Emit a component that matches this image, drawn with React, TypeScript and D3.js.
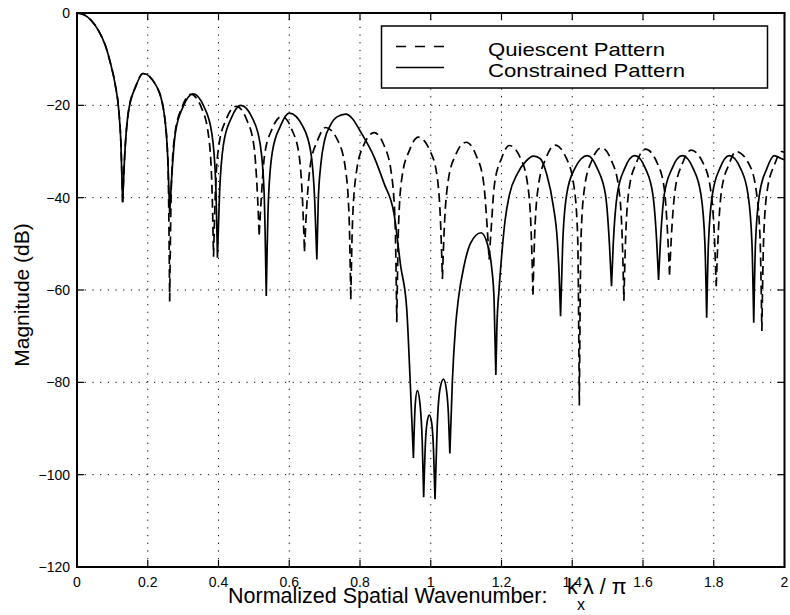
import React, { useEffect, useRef } from 'react';
import * as d3 from 'd3';

// [k_x lambda / pi, dB]
const quiescentPattern: [number, number][] = [
  [0, 0], [0.02, -0.4], [0.04, -1.6], [0.06, -3.7], [0.08, -7], [0.095, -11], [0.108, -15.5], [0.118, -21], [0.124, -28], [0.129, -41],
  [0.134, -32.1], [0.145, -21.6], [0.166, -15.9], [0.186, -13.1], [0.225, -15.9], [0.246, -21.6], [0.257, -32.1], [0.262, -62.5],
  [0.267, -36.6], [0.277, -26.1], [0.297, -20.4], [0.322, -17.6], [0.351, -20.4], [0.371, -26.1], [0.381, -36.6], [0.386, -52.8],
  [0.391, -39.2], [0.401, -28.7], [0.422, -23], [0.45, -20.2], [0.479, -23], [0.5, -28.7], [0.51, -39.2], [0.515, -48],
  [0.52, -41.4], [0.53, -30.9], [0.551, -25.2], [0.579, -22.4], [0.607, -25.2], [0.628, -30.9], [0.638, -41.4], [0.643, -51.6],
  [0.648, -43.8], [0.659, -33.3], [0.68, -27.6], [0.703, -24.8], [0.737, -27.6], [0.758, -33.3], [0.769, -43.8], [0.774, -62],
  [0.779, -44.9], [0.79, -34.4], [0.81, -28.7], [0.84, -25.9], [0.868, -28.7], [0.888, -34.4], [0.899, -44.9], [0.904, -67],
  [0.909, -45.9], [0.919, -35.4], [0.94, -29.7], [0.965, -26.9], [0.997, -29.7], [1.018, -35.4], [1.028, -45.9], [1.033, -57.6],
  [1.038, -47], [1.049, -36.5], [1.07, -30.8], [1.1, -28], [1.128, -30.8], [1.149, -36.5], [1.16, -47], [1.165, -53.4],
  [1.17, -47.7], [1.18, -37.2], [1.2, -31.5], [1.222, -28.7], [1.254, -31.5], [1.274, -37.2], [1.284, -47.7], [1.289, -61],
  [1.294, -47.6], [1.305, -37.1], [1.326, -31.4], [1.351, -28.6], [1.383, -31.4], [1.404, -37.1], [1.415, -47.6], [1.42, -85],
  [1.425, -48.2], [1.435, -37.7], [1.455, -32], [1.483, -29.2], [1.511, -32], [1.531, -37.7], [1.541, -48.2], [1.546, -62.3],
  [1.551, -48.5], [1.561, -38], [1.582, -32.3], [1.607, -29.5], [1.639, -32.3], [1.66, -38], [1.67, -48.5], [1.675, -56.7],
  [1.68, -48.7], [1.691, -38.2], [1.712, -32.5], [1.736, -29.7], [1.77, -32.5], [1.791, -38.2], [1.802, -48.7], [1.807, -59.2],
  [1.812, -49], [1.822, -38.5], [1.843, -32.8], [1.863, -30], [1.9, -32.8], [1.92, -38.5], [1.931, -49], [1.936, -68.9],
  [1.941, -49], [1.951, -38.5], [1.972, -32.8], [1.992, -30], [2.0, -30.2],
];

const constrainedPattern: [number, number][] = [
  [0, 0], [0.02, -0.4], [0.04, -1.6], [0.06, -3.7], [0.08, -7], [0.095, -11], [0.108, -15.5], [0.118, -21], [0.124, -28], [0.129, -41],
  [0.134, -32.1], [0.145, -21.6], [0.166, -15.9], [0.187, -13.1], [0.225, -15.9], [0.246, -21.6], [0.257, -32.1], [0.262, -43.5],
  [0.267, -36.5], [0.278, -26], [0.3, -20.3], [0.328, -17.5], [0.359, -20.3], [0.381, -26], [0.392, -36.5], [0.397, -53],
  [0.403, -39], [0.414, -28.5], [0.436, -22.8], [0.463, -20], [0.496, -22.8], [0.518, -28.5], [0.529, -39], [0.535, -61.3],
  [0.541, -40.7], [0.552, -30.2], [0.575, -24.5], [0.6, -21.7], [0.638, -24.5], [0.661, -30.2], [0.672, -40.7], [0.678, -53.4],
  [0.682, -40.7], [0.689, -33], [0.7, -27.5], [0.715, -24.5], [0.735, -22.5], [0.76, -21.9], [0.78, -23], [0.8, -25.5],
  [0.84, -31.2], [0.868, -36.9], [0.896, -43.4], [0.915, -54.8], [0.932, -64], [0.942, -80], [0.951, -96.4],
  [0.956, -85], [0.962, -81.8], [0.97, -85], [0.976, -93], [0.98, -104.9],
  [0.985, -93], [0.99, -88.5], [0.996, -87.1], [1.003, -89], [1.008, -95], [1.012, -105.3],
  [1.018, -90], [1.026, -81.5], [1.036, -79.3], [1.045, -82], [1.05, -87], [1.054, -95.4],
  [1.061, -80], [1.07, -68], [1.078, -62], [1.094, -54.8], [1.113, -49.8], [1.142, -47.6], [1.16, -50], [1.172, -55], [1.179, -62], [1.184, -78.4],
  [1.187, -68], [1.193, -60], [1.2, -53], [1.21, -45], [1.222, -39.5], [1.245, -34.8], [1.268, -32.2], [1.29, -31],
  [1.309, -31.5], [1.328, -35], [1.346, -41.6], [1.358, -49.5], [1.363, -56.7], [1.367, -65.7],
  [1.373, -49.9], [1.384, -39.4], [1.407, -33.7], [1.443, -30.9], [1.471, -33.7], [1.494, -39.4], [1.505, -49.9], [1.511, -59.2],
  [1.516, -49.9], [1.527, -39.4], [1.548, -33.7], [1.577, -30.9], [1.607, -33.7], [1.628, -39.4], [1.639, -49.9], [1.644, -57.8],
  [1.649, -49.9], [1.66, -39.4], [1.682, -33.7], [1.711, -30.9], [1.742, -33.7], [1.764, -39.4], [1.775, -49.9], [1.78, -66],
  [1.785, -49.9], [1.796, -39.4], [1.817, -33.7], [1.844, -30.9], [1.876, -33.7], [1.897, -39.4], [1.908, -49.9], [1.913, -67.1],
  [1.918, -49.9], [1.929, -39.4], [1.95, -33.7], [1.971, -30.9], [1.99, -31.5], [2.0, -31.8],
];

const xTicks = [0, 0.2, 0.4, 0.6, 0.8, 1, 1.2, 1.4, 1.6, 1.8, 2];
const yTicks = [0, -20, -40, -60, -80, -100, -120];
const legendLabels = ['Quiescent Pattern', 'Constrained Pattern'];

const FONT = '"Liberation Sans", Arial, Helvetica, sans-serif';

// split a pattern at its nulls so each lobe gets its own smooth piece with a sharp cusp
const splitAtNulls = (pts: [number, number][]) => {
  const segs: [number, number][][] = [];
  let cur: [number, number][] = [pts[0]];
  for (let i = 1; i < pts.length; i++) {
    cur.push(pts[i]);
    if (i < pts.length - 1 && pts[i][1] < pts[i - 1][1] && pts[i][1] < pts[i + 1][1]) {
      segs.push(cur);
      cur = [pts[i]];
    }
  }
  segs.push(cur);
  return segs;
};

const App = () => {
  const svgRef = useRef<SVGSVGElement>(null);

  useEffect(() => {
    const svg = d3.select(svgRef.current);
    svg.selectAll('*').remove();

    const x = d3.scaleLinear().domain([0, 2]).range([77, 784.5]);
    const y = d3.scaleLinear().domain([-120, 0]).range([567, 13]);
    const [x0, x1] = x.range();
    const [yB, yT] = y.range();

    svg.append('rect').attr('width', 790).attr('height', 615).attr('fill', '#fff');

    // dotted grid
    const grid = svg.append('g').attr('stroke', '#000').attr('stroke-width', 1).attr('stroke-dasharray', '1.2,6.5');
    grid.selectAll('.gx').data(xTicks.slice(1, -1)).enter().append('line')
      .attr('x1', d => x(d)).attr('x2', d => x(d)).attr('y1', yB).attr('y2', yT);
    grid.selectAll('.gy').data(yTicks.slice(1, -1)).enter().append('line')
      .attr('x1', x0).attr('x2', x1).attr('y1', d => y(d)).attr('y2', d => y(d));

    // curves
    const line = d3.line<[number, number]>().x(d => x(d[0])).y(d => y(d[1])).curve(d3.curveMonotoneX);
    const pathOf = (pts: [number, number][]) => splitAtNulls(pts).map(s => line(s)).join('');

    svg.append('path').attr('d', pathOf(quiescentPattern))
      .attr('fill', 'none').attr('stroke', '#000').attr('stroke-width', 1.7).attr('stroke-dasharray', '9,5');
    svg.append('path').attr('d', pathOf(constrainedPattern))
      .attr('fill', 'none').attr('stroke', '#000').attr('stroke-width', 1.7);

    // inner ticks on all four sides
    const tickLen = 7;
    const ticks = svg.append('g').attr('stroke', '#000').attr('stroke-width', 1.2);
    xTicks.forEach(t => {
      ticks.append('line').attr('x1', x(t)).attr('x2', x(t)).attr('y1', yB).attr('y2', yB - tickLen);
      ticks.append('line').attr('x1', x(t)).attr('x2', x(t)).attr('y1', yT).attr('y2', yT + tickLen);
    });
    yTicks.forEach(t => {
      ticks.append('line').attr('x1', x0).attr('x2', x0 + tickLen).attr('y1', y(t)).attr('y2', y(t));
      ticks.append('line').attr('x1', x1).attr('x2', x1 - tickLen).attr('y1', y(t)).attr('y2', y(t));
    });

    // frame
    svg.append('rect').attr('x', x0).attr('y', yT).attr('width', x1 - x0).attr('height', yB - yT)
      .attr('fill', 'none').attr('stroke', '#000').attr('stroke-width', 2);

    // tick labels
    svg.append('g').selectAll('text').data(xTicks).enter().append('text')
      .attr('x', d => x(d)).attr('y', 587).attr('text-anchor', 'middle')
      .style('font-family', FONT).style('font-size', '14px')
      .text(d => String(d));
    svg.append('g').selectAll('text').data(yTicks).enter().append('text')
      .attr('x', 70).attr('y', d => y(d) + 5).attr('text-anchor', 'end')
      .style('font-family', FONT).style('font-size', '14px')
      .text(d => (d < 0 ? '\u2212' + Math.abs(d) : String(d)));

    // axis labels
    svg.append('text')
      .attr('transform', 'translate(29, 295) rotate(-90)')
      .attr('text-anchor', 'middle')
      .style('font-family', FONT).style('font-size', '21px')
      .text('Magnitude (dB)');

    const xl = svg.append('g').style('font-family', FONT).style('font-size', '21.5px');
    xl.append('text').attr('x', 228).attr('y', 603).text('Normalized Spatial Wavenumber:');
    xl.append('text').attr('x', 567).attr('y', 594).text('k');
    xl.append('text').attr('x', 577).attr('y', 610).style('font-size', '16px').text('x');
    xl.append('text').attr('x', 583).attr('y', 594).text('\u03bb / \u03c0');

    // legend
    const lg = svg.append('g');
    lg.append('rect').attr('x', 381.5).attr('y', 26).attr('width', 386).attr('height', 62)
      .attr('fill', '#fff').attr('stroke', '#000').attr('stroke-width', 1.5);
    const legendRows = lg.selectAll('.row').data(legendLabels).enter().append('g')
      .attr('transform', (_, i) => `translate(0, ${i * 21})`);
    legendRows.append('line')
      .attr('x1', 396).attr('x2', 444).attr('y1', 46.5).attr('y2', 46.5)
      .attr('stroke', '#000').attr('stroke-width', 1.7)
      .attr('stroke-dasharray', (_, i) => (i === 0 ? '10,9' : null));
    legendRows.append('text')
      .attr('x', 488).attr('y', 56)
      .attr('textLength', (_, i) => (i === 0 ? 177 : 197))
      .attr('lengthAdjust', 'spacingAndGlyphs')
      .style('font-family', FONT).style('font-size', '19px')
      .text(d => d);
  }, []);

  return (
    <svg ref={svgRef} width={790} height={615} style={{ position: 'absolute', left: 0, top: 0 }} />
  );
};

export default App;
